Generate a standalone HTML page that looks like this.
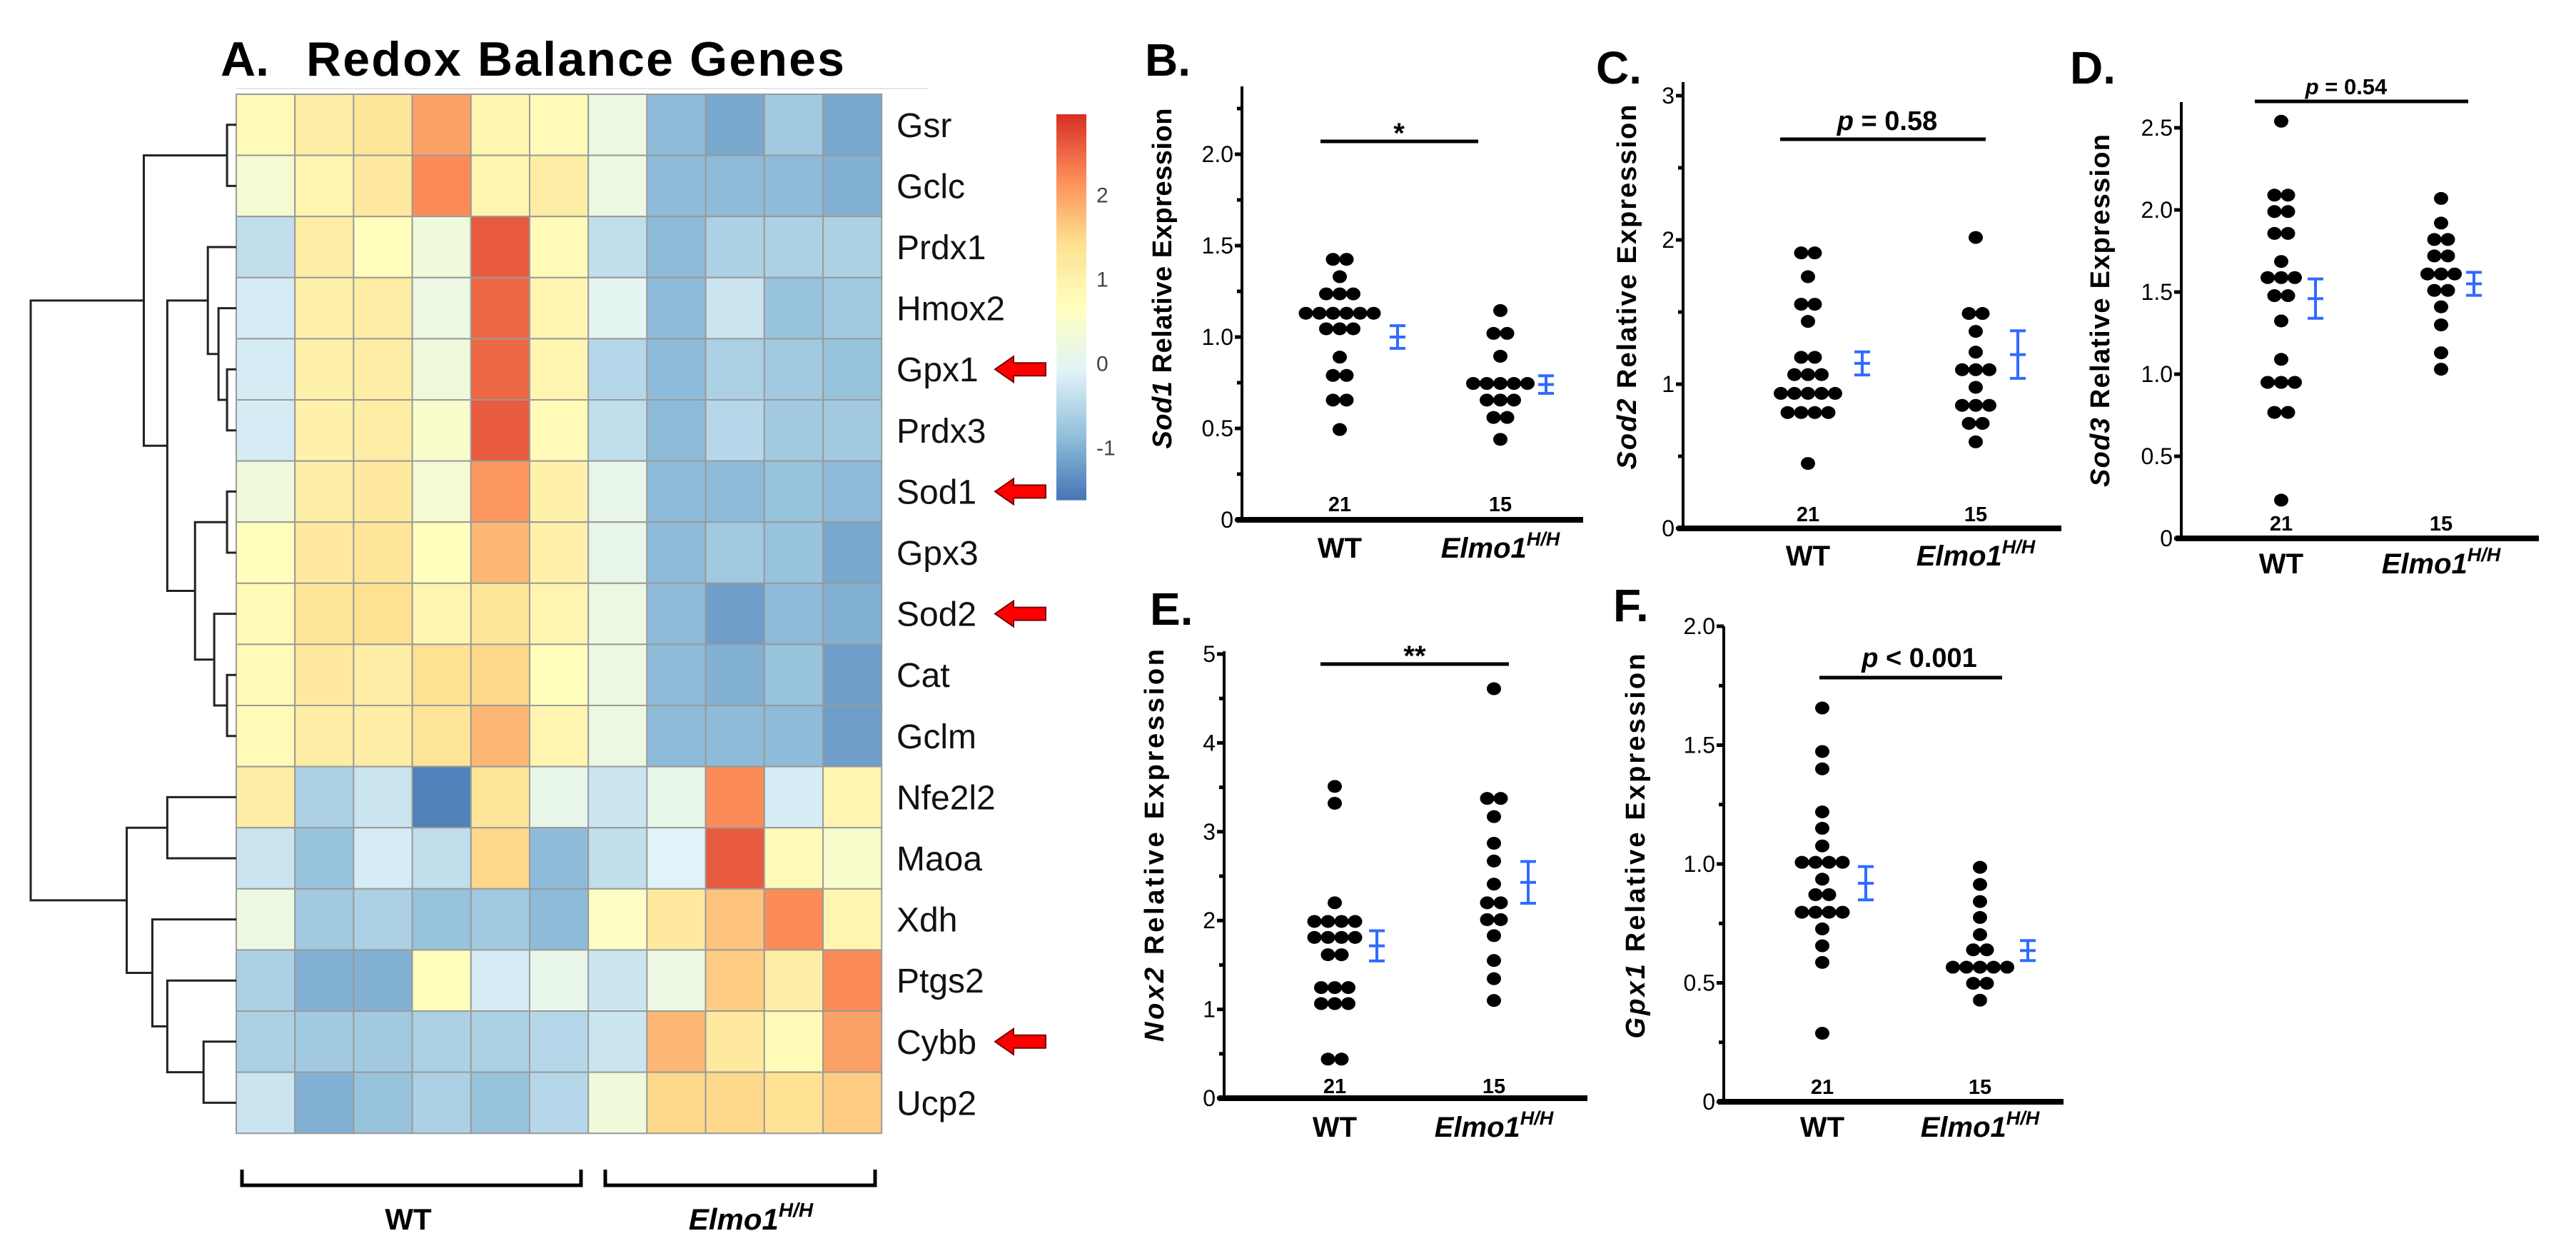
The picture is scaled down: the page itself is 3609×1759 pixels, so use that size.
<!DOCTYPE html>
<html><head><meta charset="utf-8"><title>Redox Balance Genes</title>
<style>
html,body{margin:0;padding:0;background:#fff;}
svg{display:block;font-family:"Liberation Sans",sans-serif;}
</style></head>
<body>
<svg id="fig" width="3609" height="1759" viewBox="0 0 3609 1759" xmlns="http://www.w3.org/2000/svg">
<rect width="3609" height="1759" fill="#fff"/>
<text x="309" y="106" font-size="68" font-weight="bold">A.</text>
<text x="429" y="106" font-size="68" font-weight="bold" textLength="754">Redox Balance Genes</text>
<line x1="331" y1="124" x2="1300" y2="124" stroke="#e6e6e6" stroke-width="2"/>
<g id="heat"></g>
<g id="dendro"></g>
<g id="cbar"></g>
<g id="brackets">
  <path d="M339 1638 V1660 H814 V1638" fill="none" stroke="#000" stroke-width="5"/>
  <path d="M848 1638 V1660 H1226 V1638" fill="none" stroke="#000" stroke-width="5"/>
  <text x="572" y="1722" font-size="42" font-weight="bold" text-anchor="middle">WT</text>
  <text x="1052" y="1722" font-size="42" font-weight="bold" font-style="italic" text-anchor="middle">Elmo1<tspan font-size="28" dy="-18">H/H</tspan></text>
</g>
<g id="plots"></g>
</svg>
<script>
// ---------- Heatmap data ----------
const genes = ["Gsr","Gclc","Prdx1","Hmox2","Gpx1","Prdx3","Sod1","Gpx3","Sod2","Cat","Gclm","Nfe2l2","Maoa","Xdh","Ptgs2","Cybb","Ucp2"];
const arrowGenes = ["Gpx1","Sod1","Sod2","Cybb"];
const zGsr   = [0.8,1.1,1.3,2.0,0.9,0.8,0.2,-0.9,-1.1,-0.7,-1.1];
const zGclc  = [0.4,0.9,1.2,2.2,0.9,1.1,0.2,-0.9,-0.9,-0.9,-1.0];
const zPrdx1 = [-0.4,1.1,0.7,0.3,2.6,0.8,-0.4,-0.9,-0.6,-0.6,-0.6];
const zHmox2 = [-0.2,1.0,1.1,0.2,2.5,0.9,0.0,-0.9,-0.3,-0.8,-0.7];
const zGpx1  = [-0.2,1.0,1.1,0.3,2.5,0.9,-0.5,-0.9,-0.6,-0.7,-0.8];
const zPrdx3 = [-0.2,1.0,1.1,0.5,2.6,0.8,-0.4,-0.9,-0.5,-0.7,-0.7];
const zSod1  = [0.3,1.1,1.2,0.4,2.1,1.0,0.1,-0.9,-0.9,-0.8,-0.9];
const zGpx3  = [0.7,1.2,1.3,0.7,1.8,1.0,0.1,-0.9,-0.7,-0.8,-1.1];
const zSod2  = [0.8,1.3,1.4,0.9,1.3,0.9,0.2,-0.9,-1.2,-0.9,-1.0];
const zCat   = [0.8,1.2,1.1,1.4,1.5,0.7,0.2,-0.9,-1.0,-0.8,-1.2];
const zGclm  = [0.8,1.1,1.1,1.3,1.8,0.9,0.2,-0.9,-0.9,-0.9,-1.2];
const zNfe2l2= [1.1,-0.6,-0.3,-1.5,1.3,0.1,-0.3,0.1,2.2,-0.2,0.9];
const zMaoa  = [-0.3,-0.8,-0.2,-0.4,1.5,-0.9,-0.4,-0.1,2.6,0.8,0.5];
const zXdh   = [0.2,-0.7,-0.6,-0.8,-0.7,-0.9,0.6,1.2,1.7,2.2,0.9];
const zPtgs2 = [-0.6,-1.0,-1.0,0.7,-0.2,0.1,-0.3,0.2,1.6,1.1,2.2];
const zCybb  = [-0.6,-0.7,-0.7,-0.6,-0.6,-0.5,-0.3,1.8,1.2,0.8,2.0];
const zUcp2  = [-0.3,-1.0,-0.8,-0.6,-0.8,-0.5,0.3,1.5,1.5,1.4,1.6];
const heatRows = [zGsr,zGclc,zPrdx1,zHmox2,zGpx1,zPrdx3,zSod1,zGpx3,zSod2,zCat,zGclm,zNfe2l2,zMaoa,zXdh,zPtgs2,zCybb,zUcp2];
const cbarTicks = [2,1,0,-1];
// dendrogram merges: [childA, childB, height]; leaves 0..16, new nodes 17..
const merges = [[4,5,0.08],[3,17,0.12],[2,18,0.17],[0,1,0.08],[6,7,0.08],[9,10,0.08],[8,22,0.14],[21,23,0.23],[19,24,0.36],[20,25,0.47],[11,12,0.36],[15,16,0.19],[14,28,0.36],[13,29,0.43],[27,30,0.55],[26,31,1.0]];

// ---------- Dot plot data ----------
const groups = ["WT","Elmo1"];
const nLabels = ["21","15"];
const sod1WT = [1.425,1.425,1.33,1.236,1.236,1.236,1.13,1.13,1.13,1.13,1.13,1.13,1.045,1.045,1.045,0.89,0.79,0.79,0.655,0.655,0.494];
const sod1EL = [1.145,1.02,1.02,0.895,0.746,0.746,0.746,0.746,0.746,0.655,0.655,0.655,0.56,0.56,0.44];
const sod1Mean = [1.0,0.74], sod1Sem = [0.062,0.048];
const sod2WT = [1.91,1.91,1.745,1.554,1.554,1.435,1.186,1.186,1.066,1.066,1.066,0.936,0.936,0.936,0.936,0.936,0.803,0.803,0.803,0.803,0.45];
const sod2EL = [2.017,1.49,1.49,1.366,1.222,1.10,1.10,1.10,0.978,0.853,0.853,0.853,0.728,0.728,0.60];
const sod2Mean = [1.144,1.205], sod2Sem = [0.08,0.165];
const sod3WT = [2.54,2.09,2.09,1.99,1.99,1.857,1.857,1.686,1.588,1.588,1.588,1.478,1.478,1.324,1.09,0.95,0.95,0.95,0.767,0.767,0.233];
const sod3EL = [2.07,1.92,1.82,1.82,1.72,1.72,1.61,1.61,1.61,1.51,1.51,1.41,1.30,1.13,1.03];
const sod3Mean = [1.46,1.55], sod3Sem = [0.12,0.07];
const nox2WT = [3.51,3.32,2.20,1.99,1.99,1.99,1.99,1.81,1.81,1.81,1.81,1.615,1.615,1.245,1.245,1.245,1.065,1.065,1.065,0.44,0.44];
const nox2EL = [4.61,3.375,3.375,3.17,2.87,2.67,2.41,2.20,2.20,2.01,2.01,1.83,1.55,1.345,1.10];
const nox2Mean = [1.715,2.43], nox2Sem = [0.17,0.235];
const gpx1WT = [1.656,1.473,1.40,1.219,1.15,1.076,1.007,1.007,1.007,1.007,0.936,0.871,0.871,0.797,0.797,0.797,0.797,0.727,0.656,0.586,0.288];
const gpx1EL = [0.986,0.914,0.842,0.775,0.703,0.639,0.639,0.566,0.566,0.566,0.566,0.566,0.498,0.498,0.427];
const gpx1Mean = [0.919,0.636], gpx1Sem = [0.07,0.042];
const ticksB = [0,0.5,1,1.5,2], tickLabB = ["0","0.5","1.0","1.5","2.0"], minorB = [0.25,0.75,1.25,1.75,2.25];
const ticksC = [0,1,2,3], tickLabC = ["0","1","2","3"], minorC = [0.5,1.5,2.5];
const ticksD = [0,0.5,1,1.5,2,2.5], tickLabD = ["0","0.5","1.0","1.5","2.0","2.5"], minorD = [];
const ticksE = [0,1,2,3,4,5], tickLabE = ["0","1","2","3","4","5"], minorE = [0.5,1.5,2.5,3.5,4.5];
const ticksF = [0,0.5,1,1.5,2], tickLabF = ["0","0.5","1.0","1.5","2.0"], minorF = [0.25,0.75,1.25,1.75];

const NS = "http://www.w3.org/2000/svg";
function mk(tag, attrs, parent){ const e=document.createElementNS(NS,tag); for(const k in attrs) e.setAttribute(k,attrs[k]); parent.appendChild(e); return e; }

// ---------- Heatmap ----------
const HX0=331, HY0=132, CW=82.2, CH=85.6, ZMIN=-1.62, ZMAX=2.95;
const pal=["#4575B4","#91BFDB","#E0F3F8","#FFFFBF","#FEE090","#FC8D59","#D73027"];
function hex(c){return [parseInt(c.substr(1,2),16),parseInt(c.substr(3,2),16),parseInt(c.substr(5,2),16)];}
function colorOf(z){ let t=(z-ZMIN)/(ZMAX-ZMIN); t=Math.max(0,Math.min(1,t)); const p=t*(pal.length-1); const i=Math.min(pal.length-2,Math.floor(p)); const f=p-i; const a=hex(pal[i]),b=hex(pal[i+1]); return "rgb("+a.map((v,k)=>Math.round(v+(b[k]-v)*f)).join(",")+")"; }
const cellX = c => HX0 + c*CW;
const rowY = r => HY0 + r*CH;
const heat=document.getElementById("heat");
heatRows.forEach((row,r)=>{
  row.forEach((z,c)=>{
    const e=mk("rect",{x:cellX(c),y:rowY(r),width:CW,height:CH,fill:colorOf(z),stroke:"#9a9a9a","stroke-width":2},heat);
    
    
  });
  const t=mk("text",{x:1256,y:rowY(r)+CH/2+17,"font-size":48,fill:"#111"},heat);
  t.textContent=genes[r];
  
  
  if(arrowGenes.indexOf(genes[r])>=0){
    const cy=rowY(r)+CH/2, x=1394;
    const a=mk("polygon",{points:[[x,cy],[x+26,cy-18],[x+26,cy-9],[x+71,cy-9],[x+71,cy+9],[x+26,cy+9],[x+26,cy+18]].map(p=>p.join(",")).join(" "),fill:"#ff0000",stroke:"#7a0000","stroke-width":2},heat);
    
    
  }
});
// colorbar
const cbar=document.getElementById("cbar");
const CBT=160, CBB=700, CBX=1480, CBW=42;
const cbY = z => CBB - (z-ZMIN)/(ZMAX-ZMIN)*(CBB-CBT);
for(let i=0;i<100;i++){
  const z0=ZMIN+(ZMAX-ZMIN)*i/100, z1=ZMIN+(ZMAX-ZMIN)*(i+1)/100;
  const e=mk("rect",{x:CBX,y:cbY(z1),width:CBW,height:cbY(z0)-cbY(z1)+0.6,fill:colorOf((z0+z1)/2)},cbar);
  
  
}
cbarTicks.forEach(v=>{
  const t=mk("text",{x:1536,y:cbY(v)+11,"font-size":30,fill:"#444"},cbar);
  t.textContent=String(v);
  
  
});
// dendrogram
const dendro=document.getElementById("dendro");
const DX_LEAF=342, DX_ROOT=43;
const nodes=[]; for(let i=0;i<17;i++) nodes.push({y:rowY(i)+CH/2,x:HX0});
merges.forEach(m=>{
  const a=nodes[m[0]], b=nodes[m[1]], x=DX_LEAF-(DX_LEAF-DX_ROOT)*m[2];
  const p=mk("path",{d:`M${a.x} ${a.y} H${x} V${b.y} H${b.x}`,fill:"none",stroke:"#222","stroke-width":3},dendro);
  
  
  nodes.push({x:x,y:(a.y+b.y)/2});
});

// ---------- Dot plots ----------
const plots=document.getElementById("plots");
function dotPlot(cfg, wt, el, means, sems, ticks, tickLab, minor){
  const g=mk("g",{},plots);
  
  
  const yS = v => cfg.yBase - v*cfg.ppu;
  let t=mk("text",{x:cfg.letter[0],y:cfg.letter[1],"font-size":64,"font-weight":"bold"},g); t.textContent=cfg.id.toUpperCase()+".";
   
  let a=mk("line",{x1:cfg.x0,y1:cfg.yTop,x2:cfg.x0,y2:cfg.yBase,stroke:"#000","stroke-width":4},g);
   
  a=mk("line",{x1:cfg.x0-8,y1:cfg.yBase,x2:cfg.xEnd,y2:cfg.yBase,stroke:"#000","stroke-width":8},g);
   
  ticks.forEach((v,i)=>{
    const l=mk("line",{x1:cfg.x0-10,y1:yS(v),x2:cfg.x0,y2:yS(v),stroke:"#000","stroke-width":5},g);
     
    const tt=mk("text",{x:cfg.x0-12,y:yS(v)+11,"font-size":32,"text-anchor":"end","font-family":"Liberation Sans Narrow, Liberation Sans, sans-serif"},g);
    tt.textContent=tickLab[i];
     
  });
  minor.forEach(v=>{
    const l=mk("line",{x1:cfg.x0-7,y1:yS(v),x2:cfg.x0,y2:yS(v),stroke:"#000","stroke-width":5},g);
     
  });
  const yl=mk("text",{transform:`translate(${cfg.ylab[0]+13},${cfg.ylab[1]}) rotate(-90)`,"font-size":38,"font-weight":"bold","text-anchor":"middle",textLength:cfg.ylab[2],lengthAdjust:"spacing"},g);
  yl.innerHTML=`<tspan font-style="italic">${cfg.gene}</tspan> Relative Expression`;
   
  [cfg.wtX,cfg.elX].forEach((cx,i)=>{
    const c=mk("text",{x:cx,y:cfg.catY,"font-size":40,"font-weight":"bold","text-anchor":"middle"},g);
    if(i===0) c.textContent=groups[0]; else c.innerHTML=`<tspan font-style="italic">${groups[1]}</tspan><tspan font-style="italic" font-size="27" dy="-17">H/H</tspan>`;
     
    const n=mk("text",{x:cx,y:cfg.nY,"font-size":29,"font-weight":"bold","text-anchor":"middle","font-family":"Liberation Sans Narrow, Liberation Sans, sans-serif"},g);
    n.textContent=nLabels[i];
     
  });
  [[wt,cfg.wtX],[el,cfg.elX]].forEach(([vals,cx],gi)=>{
    const counts={}; vals.forEach(v=>{counts[v]=(counts[v]||0)+1;});
    const seen={};
    vals.forEach(v=>{
      const k=counts[v], j=(seen[v]=(seen[v]||0)+1)-1;
      const d=mk("ellipse",{cx:cx+(j-(k-1)/2)*19,cy:yS(v),rx:10,ry:9,fill:"#000"},g);
       
    });
  });
  [cfg.wtBlue,cfg.elBlue].forEach((bx,i)=>{
    const m=means[i], s=sems[i];
    const p=mk("path",{d:`M${bx} ${yS(m+s)} V${yS(m-s)} M${bx-11} ${yS(m+s)} H${bx+11} M${bx-11} ${yS(m-s)} H${bx+11} M${bx-11} ${yS(m)} H${bx+11}`,stroke:"#2f6bff","stroke-width":4,fill:"none"},g);
     
  });
  const s=mk("line",{x1:cfg.sig[0],y1:cfg.sig[2],x2:cfg.sig[1],y2:cfg.sig[2],stroke:"#000","stroke-width":5},g);
   
  const st=mk("text",{x:cfg.sigText[1],y:cfg.sigText[2],"font-size":cfg.sigText[3],"font-weight":"bold","text-anchor":"middle"},g);
  st.innerHTML=cfg.sigText[0];
   
}
dotPlot({id:"b",gene:"Sod1",x0:1740,xEnd:2218,yBase:728,yTop:121,ppu:256,wtX:1877,elX:2102,wtBlue:1958,elBlue:2166,nY:716,catY:781,sig:[1850,2071,198],sigText:["*",1960,200,40],ylab:[1628,390,477],letter:[1604,106]},sod1WT,sod1EL,sod1Mean,sod1Sem,ticksB,tickLabB,minorB);
dotPlot({id:"c",gene:"Sod2",x0:2358,xEnd:2888,yBase:740,yTop:115,ppu:202,wtX:2533,elX:2768,wtBlue:2609,elBlue:2827,nY:730,catY:792,sig:[2494,2782,195],sigText:['<tspan font-style="italic">p</tspan> = 0.58',2644,182,38],ylab:[2279,402,511],letter:[2236,117]},sod2WT,sod2EL,sod2Mean,sod2Sem,ticksC,tickLabC,minorC);
dotPlot({id:"d",gene:"Sod3",x0:3056,xEnd:3557,yBase:754,yTop:143,ppu:230,wtX:3196,elX:3420,wtBlue:3244,elBlue:3466,nY:743,catY:803,sig:[3159,3458,142],sigText:['<tspan font-style="italic">p</tspan> = 0.54',3287,132,31],ylab:[2942,435,494],letter:[2900,117]},sod3WT,sod3EL,sod3Mean,sod3Sem,ticksD,tickLabD,minorD);
dotPlot({id:"e",gene:"Nox2",x0:1715,xEnd:2224,yBase:1538,yTop:912,ppu:124.4,wtX:1870,elX:2093,wtBlue:1929,elBlue:2141,nY:1531,catY:1592,sig:[1850,2114,930],sigText:["**",1982,932,40],ylab:[1617,1184,550],letter:[1611,875]},nox2WT,nox2EL,nox2Mean,nox2Sem,ticksE,tickLabE,minorE);
dotPlot({id:"f",gene:"Gpx1",x0:2415,xEnd:2891,yBase:1543,yTop:877,ppu:333,wtX:2553,elX:2774,wtBlue:2614,elBlue:2841,nY:1532,catY:1592,sig:[2549,2805,949],sigText:['<tspan font-style="italic">p</tspan> &lt; 0.001',2689,934,38],ylab:[2291,1185,539],letter:[2260,870]},gpx1WT,gpx1EL,gpx1Mean,gpx1Sem,ticksF,tickLabF,minorF);
</script>
</body></html>
